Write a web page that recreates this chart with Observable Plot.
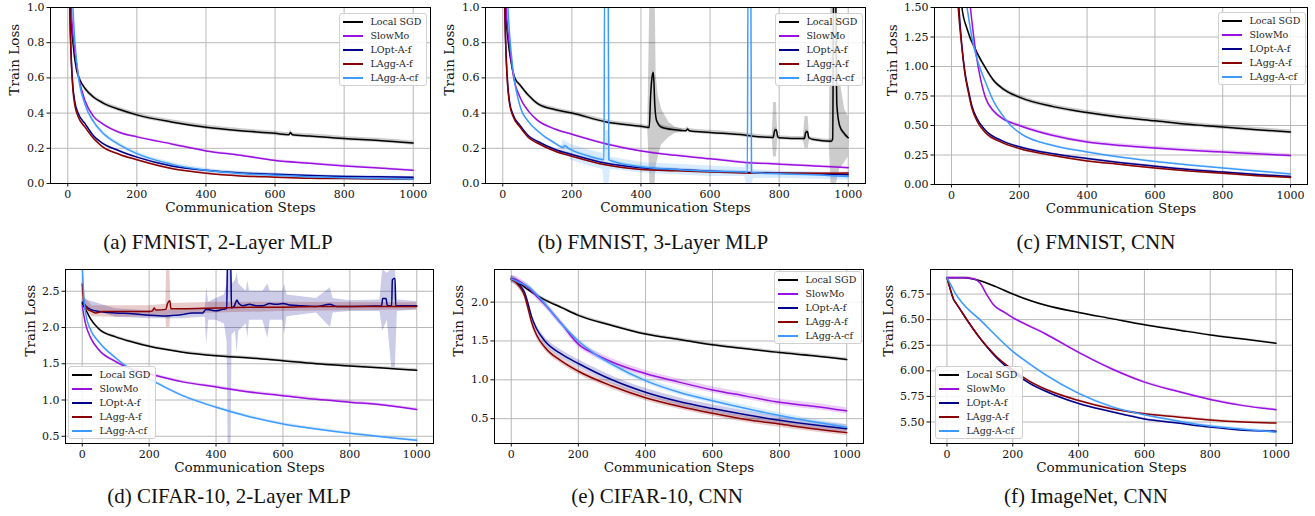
<!DOCTYPE html>
<html><head><meta charset="utf-8">
<script src="https://cdn.jsdelivr.net/npm/d3@7"></script>
<script src="https://cdn.jsdelivr.net/npm/@observablehq/plot@0.6"></script>
<style>
body{margin:0;background:#fff;width:1315px;height:516px;position:relative;overflow:hidden}
.panel{position:absolute}
.panel svg, .panel svg text{font-family:"DejaVu Serif" !important}
.legend{position:absolute;background:rgba(255,255,255,0.85);border:1px solid #d0d0d0;border-radius:3px;padding:1px 5px 1px 3px;font-family:"DejaVu Serif";font-size:9.5px;color:#222;box-sizing:border-box}
.legend .row{display:flex;align-items:center;height:13.9px;white-space:nowrap}
.legend .sw{width:20px;height:2px;margin-right:7.5px;flex:none}
.caption{position:absolute;font-family:"Liberation Serif";font-size:21px;line-height:21px;white-space:nowrap;transform:translateX(-50%);color:#111}
</style>
</head><body>
<script>
// ---------- shared ----------
const seriesNames = ["Local SGD", "SlowMo", "LOpt-A-f", "LAgg-A-f", "LAgg-A-cf"];
const seriesColors = ["#000000", "#9a10e0", "#00008b", "#8b0000", "#3d9bff"];
const xTicks = [0, 200, 400, 600, 800, 1000];

// ---------- (a) FMNIST, 2-Layer MLP ----------
const aLocalSGD = [[0,2.3],[8,1.0],[15,0.8],[25,0.65],[35,0.59],[50,0.54],[75,0.49],[100,0.46],[150,0.42],[200,0.39],[300,0.35],[400,0.32],[500,0.30],[600,0.285],[640,0.277],[645,0.29],[650,0.277],[700,0.27],[800,0.255],[900,0.245],[1000,0.23]];
const aSlowMo = [[0,2.3],[10,1.0],[20,0.76],[32,0.6],[50,0.47],[75,0.38],[100,0.34],[150,0.29],[200,0.265],[300,0.225],[400,0.185],[500,0.16],[600,0.13],[700,0.115],[800,0.1],[900,0.088],[1000,0.075]];
const aLOptAf = [[0,2.3],[6,1.0],[10,0.72],[15,0.55],[20,0.47],[30,0.40],[50,0.34],[75,0.27],[100,0.23],[150,0.185],[200,0.15],[300,0.1],[400,0.075],[500,0.06],[600,0.052],[700,0.045],[800,0.04],[900,0.038],[1000,0.035]];
const aLAggAf = [[0,2.3],[6,1.0],[10,0.7],[15,0.53],[20,0.45],[30,0.38],[50,0.32],[75,0.255],[100,0.21],[150,0.165],[200,0.135],[300,0.085],[400,0.058],[500,0.043],[600,0.036],[700,0.03],[800,0.028],[900,0.026],[1000,0.025]];
const aLAggAcf = [[0,2.3],[15,1.0],[20,0.82],[30,0.62],[50,0.45],[75,0.35],[100,0.29],[150,0.22],[200,0.17],[300,0.11],[400,0.075],[500,0.057],[600,0.047],[700,0.038],[800,0.032],[900,0.028],[1000,0.025]];
const aBand = [0.012, 0.006, 0.005, 0.006, 0.012];

// ---------- (b) FMNIST, 3-Layer MLP ----------
const bLocalSGD = [[0,2.3],[8,1.0],[15,0.82],[25,0.68],[35,0.6],[50,0.56],[75,0.5],[100,0.455],[150,0.42],[200,0.4],[300,0.35],[400,0.325],[424,0.318],[428,0.5],[432,0.6],[436,0.63],[440,0.45],[445,0.36],[460,0.32],[500,0.305],[530,0.3],[535,0.31],[540,0.3],[600,0.29],[700,0.275],[720,0.27],[783,0.262],[787,0.3],[792,0.305],[796,0.265],[800,0.26],[873,0.255],[877,0.29],[882,0.295],[886,0.26],[900,0.25],[950,0.24],[955,0.25],[958,1.2],[963,1.2],[967,0.45],[975,0.33],[990,0.28],[1000,0.26]];
const bSlowMo = [[0,2.3],[10,1.0],[20,0.78],[30,0.62],[50,0.49],[75,0.41],[100,0.36],[150,0.31],[200,0.28],[300,0.225],[400,0.185],[500,0.16],[600,0.14],[700,0.12],[800,0.11],[900,0.1],[1000,0.09]];
const bLOptAf = [[0,2.3],[6,1.0],[10,0.72],[15,0.55],[20,0.46],[30,0.39],[50,0.33],[75,0.27],[100,0.24],[150,0.195],[200,0.165],[300,0.115],[400,0.09],[500,0.08],[600,0.07],[700,0.063],[800,0.058],[900,0.055],[1000,0.05]];
const bLAggAf = [[0,2.3],[6,1.0],[10,0.7],[15,0.53],[20,0.45],[30,0.38],[50,0.32],[75,0.26],[100,0.23],[150,0.185],[200,0.155],[300,0.105],[400,0.08],[500,0.072],[600,0.065],[700,0.06],[800,0.058],[900,0.058],[1000,0.06]];
const bLAggAcf = [[0,2.3],[15,1.0],[20,0.84],[30,0.64],[50,0.44],[75,0.35],[100,0.3],[150,0.23],[175,0.205],[180,0.215],[190,0.2],[200,0.19],[250,0.155],[293,0.135],[295,1.2],[305,1.2],[307,0.135],[320,0.125],[400,0.095],[500,0.08],[600,0.07],[700,0.065],[708,0.063],[710,1.2],[718,1.2],[720,0.062],[800,0.055],[900,0.05],[1000,0.04]];
const bBand = [0.012, 0.006, 0.005, 0.006, 0.008];
const bLocalNoise1 = [[420,0.3,0.34],[426,0,1.1],[441,0,1.1],[444,0.1,0.62],[450,0.15,0.5],[460,0.22,0.42],[480,0.26,0.35],[500,0.285,0.32],[520,0.29,0.31]];
const bLocalNoise2 = [[780,0.25,0.27],[784,0.15,0.46],[792,0.15,0.46],[796,0.25,0.27]];
const bLocalNoise3 = [[870,0.24,0.26],[875,0.2,0.38],[884,0.2,0.38],[888,0.24,0.26]];
const bLocalNoise4 = [[945,0.22,0.26],[950,0,1.1],[966,0,1.1],[975,0.08,0.6],[990,0.12,0.42],[1000,0.15,0.38]];
const bCfNoise = [[170,0.19,0.21],[175,0.16,0.25],[190,0.15,0.23],[200,0.13,0.22],[250,0.1,0.19],[290,0.08,0.17],[293,0,0.3],[308,0,0.3],[312,0.08,0.15],[400,0.06,0.12],[500,0.05,0.11],[600,0.04,0.1],[700,0.04,0.09],[706,0,0.12],[722,0,0.12],[726,0.03,0.08],[800,0.03,0.07],[1000,0.02,0.06]];

// ---------- (c) FMNIST, CNN ----------
const cLocalSGD = [[0,2.3],[20,1.9],[31,1.5],[46,1.32],[75,1.12],[100,0.99],[125,0.88],[150,0.815],[200,0.74],[300,0.66],[400,0.61],[500,0.57],[600,0.54],[700,0.51],[800,0.487],[900,0.465],[1000,0.445]];
const cSlowMo = [[0,2.3],[40,2.0],[56,1.5],[68,1.2],[80,0.98],[100,0.74],[125,0.62],[150,0.56],[200,0.5],[300,0.415],[400,0.36],[500,0.33],[600,0.31],[700,0.29],[800,0.275],[900,0.26],[1000,0.245]];
const cLOptAf = [[0,2.3],[15,1.8],[22,1.5],[30,1.2],[40,0.95],[50,0.8],[60,0.67],[75,0.56],[100,0.46],[150,0.37],[200,0.32],[300,0.26],[400,0.22],[500,0.185],[600,0.155],[700,0.127],[800,0.105],[900,0.085],[1000,0.068]];
const cLAggAf = [[0,2.3],[14,1.8],[20,1.5],[30,1.18],[40,0.93],[50,0.78],[60,0.65],[75,0.54],[100,0.44],[150,0.355],[200,0.305],[300,0.245],[400,0.2],[500,0.17],[600,0.14],[700,0.115],[800,0.095],[900,0.075],[1000,0.06]];
const cLAggAcf = [[0,2.3],[30,1.8],[46,1.5],[60,1.25],[75,1.07],[100,0.87],[125,0.7],[150,0.59],[175,0.5],[200,0.44],[300,0.33],[400,0.275],[500,0.23],[600,0.195],[700,0.165],[800,0.14],[900,0.115],[1000,0.09]];
const cBand = [0.018, 0.015, 0.008, 0.012, 0.008];

// ---------- (d) CIFAR-10, 2-Layer MLP ----------
const dLocalSGD = [[0,2.33],[10,2.25],[25,2.12],[50,1.98],[100,1.87],[150,1.8],[200,1.74],[300,1.66],[400,1.61],[500,1.58],[600,1.54],[700,1.5],[800,1.47],[900,1.44],[1000,1.41]];
const dSlowMo = [[0,2.3],[10,2.05],[25,1.86],[50,1.69],[100,1.53],[150,1.42],[200,1.36],[300,1.25],[400,1.18],[500,1.11],[600,1.06],[700,1.01],[800,0.97],[900,0.93],[1000,0.87]];
const dLOptAf = [[0,2.35],[10,2.3],[25,2.25],[50,2.22],[100,2.2],[150,2.19],[200,2.17],[250,2.16],[280,2.17],[300,2.18],[330,2.2],[360,2.2],[370,2.25],[385,2.24],[400,2.23],[420,2.25],[432,2.26],[434,2.9],[444,2.9],[446,2.27],[455,2.3],[462,2.38],[468,2.33],[480,2.3],[500,2.32],[520,2.3],[540,2.3],[560,2.33],[580,2.32],[600,2.33],[620,2.31],[650,2.3],[700,2.29],[740,2.32],[760,2.29],[800,2.29],[895,2.3],[898,2.4],[908,2.4],[912,2.3],[925,2.3],[927,2.66],[935,2.68],[937,2.3],[1000,2.3]];
const dLAggAf = [[0,2.6],[5,2.35],[15,2.26],[30,2.22],[40,2.2],[60,2.22],[100,2.22],[200,2.22],[210,2.23],[215,2.27],[220,2.24],[250,2.25],[255,2.33],[262,2.37],[265,2.26],[300,2.26],[400,2.27],[500,2.28],[600,2.28],[700,2.29],[800,2.29],[900,2.29],[1000,2.29]];
const dLAggAcf = [[0,2.9],[5,2.4],[10,2.2],[25,1.97],[50,1.8],[100,1.58],[150,1.41],[200,1.29],[300,1.06],[400,0.9],[500,0.77],[600,0.67],[700,0.6],[800,0.54],[900,0.49],[1000,0.445]];
const dBand = [0.02, 0.02, 0, 0, 0.02];
const dLOptNoise = [[0,2.3,2.4],[100,2.14,2.26],[200,2.12,2.23],[300,2.12,2.25],[360,2.14,2.27],[368,2.14,2.27],[372,1.75,2.55],[378,2.1,2.35],[400,2.1,2.4],[425,2.05,2.45],[433,1.8,2.6],[436,0.4,2.9],[445,0.4,2.9],[448,1.9,2.6],[458,1.95,2.65],[463,1.65,2.75],[468,1.95,2.6],[490,2.05,2.5],[495,1.85,2.65],[500,2.1,2.5],[540,2.1,2.5],[555,1.85,2.6],[562,2.1,2.5],[600,2.1,2.5],[605,1.9,2.6],[612,2.15,2.45],[700,2.2,2.4],[742,2.0,2.55],[750,2.2,2.4],[800,2.22,2.37],[890,2.22,2.38],[898,1.95,2.8],[912,2.1,2.75],[925,1.45,2.8],[936,1.45,2.8],[942,2.22,2.38],[1000,2.24,2.36]];
const dLAggNoise = [[0,2.45,2.75],[10,2.25,2.4],[30,2.15,2.3],[100,2.14,2.3],[200,2.15,2.3],[250,2.15,2.32],[252,2.0,2.8],[262,2.0,2.8],[265,2.18,2.33],[400,2.2,2.35],[600,2.22,2.35],[1000,2.24,2.34]];

// ---------- (e) CIFAR-10, CNN ----------
const eLocalSGD = [[0,2.3],[25,2.24],[50,2.16],[75,2.09],[100,2.03],[150,1.93],[200,1.83],[300,1.7],[400,1.59],[500,1.52],[600,1.45],[700,1.4],[800,1.35],[900,1.31],[1000,1.26]];
const eSlowMo = [[0,2.3],[15,2.29],[30,2.25],[50,2.19],[75,2.08],[100,1.97],[150,1.72],[200,1.46],[250,1.33],[300,1.23],[400,1.08],[500,0.97],[600,0.87],[700,0.79],[800,0.71],[900,0.66],[1000,0.6]];
const eLOptAf = [[0,2.3],[25,2.22],[40,2.12],[50,1.98],[60,1.82],[75,1.66],[100,1.5],[150,1.33],[200,1.21],[300,1.0],[400,0.84],[500,0.72],[600,0.63],[700,0.55],[800,0.48],[900,0.42],[1000,0.37]];
const eLAggAf = [[0,2.3],[25,2.2],[40,2.08],[50,1.92],[60,1.75],[75,1.58],[100,1.42],[150,1.24],[200,1.11],[300,0.92],[400,0.77],[500,0.66],[600,0.57],[700,0.49],[800,0.43],[900,0.37],[1000,0.32]];
const eLAggAcf = [[0,2.3],[25,2.25],[50,2.2],[75,2.1],[100,1.98],[150,1.72],[200,1.5],[250,1.33],[300,1.2],[400,0.99],[500,0.84],[600,0.73],[700,0.63],[800,0.54],[900,0.46],[1000,0.39]];
const eBand = [0.02, 0.04, 0.05, 0.04, 0.035];

// ---------- (f) ImageNet, CNN ----------
const fLocalSGD = [[0,6.91],[50,6.91],[75,6.9],[100,6.88],[150,6.82],[200,6.75],[250,6.69],[300,6.64],[400,6.57],[500,6.51],[600,6.45],[700,6.4],[800,6.35],[900,6.31],[1000,6.27]];
const fSlowMo = [[0,6.91],[50,6.91],[80,6.9],[100,6.86],[120,6.75],[140,6.65],[175,6.57],[200,6.52],[300,6.36],[400,6.18],[500,6.02],[600,5.89],[700,5.8],[800,5.72],[900,5.66],[1000,5.62]];
const fLOptAf = [[0,6.91],[10,6.8],[20,6.7],[30,6.65],[50,6.55],[100,6.32],[150,6.13],[200,5.99],[250,5.88],[300,5.8],[400,5.68],[500,5.6],[600,5.53],[700,5.49],[800,5.45],[900,5.42],[1000,5.41]];
const fLAggAf = [[0,6.91],[10,6.8],[20,6.7],[30,6.65],[50,6.55],[100,6.32],[150,6.14],[200,6.01],[250,5.9],[300,5.82],[400,5.71],[500,5.63],[600,5.58],[700,5.55],[800,5.52],[900,5.5],[1000,5.49]];
const fLAggAcf = [[0,6.91],[15,6.82],[25,6.76],[50,6.65],[100,6.5],[150,6.34],[200,6.19],[250,6.07],[300,5.96],[400,5.78],[500,5.65],[600,5.57],[700,5.51],[800,5.46],[900,5.43],[1000,5.4]];
const fBand = [0.008, 0.012, 0.01, 0.01, 0.012];

// ---------- panels ----------
const panels = [
  {left:0, top:0, width:435, height:225, ml:50, mr:5, mt:7, mb:42, ydom:[0,1], yticks:[0,0.2,0.4,0.6,0.8,1.0], yfmt:".1f",
   series:[aLocalSGD,aSlowMo,aLOptAf,aLAggAf,aLAggAcf], band:aBand, noise:[],
   legend:[339,13], caption:"(a) FMNIST, 2-Layer MLP", capX:218, capY:232, ylabDx:36, xlabDy:28},
  {left:435, top:0, width:435, height:225, ml:50, mr:5, mt:7, mb:42, ydom:[0,1], yticks:[0,0.2,0.4,0.6,0.8,1.0], yfmt:".1f",
   series:[bLocalSGD,bSlowMo,bLOptAf,bLAggAf,bLAggAcf], band:bBand,
   noise:[[bLocalNoise1,0],[bLocalNoise2,0],[bLocalNoise3,0],[bLocalNoise4,0],[bCfNoise,4]],
   legend:[775,13], caption:"(b) FMNIST, 3-Layer MLP", capX:653, capY:232, ylabDx:36, xlabDy:28},
  {left:870, top:0, width:445, height:225, ml:64, mr:8, mt:7, mb:41, ydom:[0,1.5], yticks:[0,0.25,0.5,0.75,1.0,1.25,1.5], yfmt:".2f",
   series:[cLocalSGD,cSlowMo,cLOptAf,cLAggAf,cLAggAcf], band:cBand, noise:[],
   legend:[1218,12], caption:"(c) FMNIST, CNN", capX:1096, capY:232, ylabDx:42, xlabDy:28},
  {left:0, top:258, width:435, height:230, ml:65, mr:2, mt:11, mb:45, ydom:[0.4,2.8], yticks:[0.5,1.0,1.5,2.0,2.5], yfmt:".1f",
   series:[dLocalSGD,dSlowMo,dLOptAf,dLAggAf,dLAggAcf], band:dBand,
   noise:[[dLOptNoise,2],[dLAggNoise,3]],
   legend:[68,366], caption:"(d) CIFAR-10, 2-Layer MLP", capX:229, capY:486, ylabDx:35, xlabDy:28},
  {left:435, top:258, width:435, height:230, ml:59, mr:7, mt:11, mb:45, ydom:[0.18,2.42], yticks:[0.5,1.0,1.5,2.0], yfmt:".1f",
   series:[eLocalSGD,eSlowMo,eLOptAf,eLAggAf,eLAggAcf], band:eBand, noise:[],
   legend:[774,271], caption:"(e) CIFAR-10, CNN", capX:657, capY:486, ylabDx:36, xlabDy:28},
  {left:870, top:258, width:445, height:230, ml:60, mr:23, mt:11, mb:45, ydom:[5.29,6.99], yticks:[5.5,5.75,6.0,6.25,6.5,6.75], yfmt:".2f",
   series:[fLocalSGD,fSlowMo,fLOptAf,fLAggAf,fLAggAcf], band:fBand, noise:[],
   legend:[935,366], caption:"(f) ImageNet, CNN", capX:1086, capY:486, ylabDx:42, xlabDy:28}
];

const FONT = "DejaVu Serif";
for (const p of panels) {
  const marks = [Plot.gridX(xTicks, {stroke:"#b8b8b8", strokeOpacity:1, strokeWidth:1}),
                 Plot.gridY(p.yticks, {stroke:"#b8b8b8", strokeOpacity:1, strokeWidth:1})];
  p.series.forEach((s, i) => {
    const w = p.band[i];
    if (w > 0) marks.push(Plot.areaY(s, {x: d => d[0], y1: d => d[1] - w, y2: d => d[1] + w,
      fill: seriesColors[i], fillOpacity: 0.2, curve: "monotone-x", clip: true}));
  });
  for (const [nz, i] of p.noise) {
    marks.push(Plot.areaY(nz, {x: d => d[0], y1: d => d[1], y2: d => d[2],
      fill: seriesColors[i], fillOpacity: 0.2, curve: "linear", clip: true}));
  }
  p.series.forEach((s, i) => {
    marks.push(Plot.line(s, {x: d => d[0], y: d => d[1], stroke: seriesColors[i], strokeWidth: 1.5,
      curve: "monotone-x", clip: true}));
  });
  marks.push(Plot.frame({stroke: "#000", strokeWidth: 1}));
  marks.push(Plot.axisX({ticks: xTicks, tickFormat: d3.format("d"), tickSize: 3.5, tickPadding: 3, label: null, fontSize: 11, fontFamily: FONT}));
  marks.push(Plot.axisY({ticks: p.yticks, tickFormat: d3.format(p.yfmt), tickSize: 3.5, tickPadding: 2.5, label: null, fontSize: 11, fontFamily: FONT}));
  marks.push(Plot.text(["Train Loss"], {frameAnchor: "left", dx: -p.ylabDx, rotate: -90, fontSize: 13.5, fontFamily: FONT, fill: "#111"}));
  marks.push(Plot.text(["Communication Steps"], {frameAnchor: "bottom", dy: p.xlabDy, fontSize: 13.5, fontFamily: FONT, fill: "#111"}));

  const chart = Plot.plot({
    width: p.width, height: p.height,
    marginLeft: p.ml, marginRight: p.mr, marginTop: p.mt, marginBottom: p.mb,
    x: {domain: [-50, 1050]},
    y: {domain: p.ydom},
    style: {fontFamily: FONT, fontSize: "11px", color: "#111", background: "transparent", overflow: "visible"},
    marks
  });
  const wrap = document.createElement("div");
  wrap.className = "panel";
  wrap.style.left = p.left + "px";
  wrap.style.top = p.top + "px";
  wrap.appendChild(chart);
  document.body.appendChild(wrap);

  const lg = document.createElement("div");
  lg.className = "legend";
  lg.style.left = p.legend[0] + "px";
  lg.style.top = p.legend[1] + "px";
  seriesNames.forEach((n, i) => {
    const r = document.createElement("div");
    r.className = "row";
    const sw = document.createElement("div");
    sw.className = "sw";
    sw.style.background = seriesColors[i];
    r.appendChild(sw);
    r.appendChild(document.createTextNode(n));
    lg.appendChild(r);
  });
  document.body.appendChild(lg);

  const cap = document.createElement("div");
  cap.className = "caption";
  cap.style.left = p.capX + "px";
  cap.style.top = p.capY + "px";
  cap.textContent = p.caption;
  document.body.appendChild(cap);
}
</script>
</body></html>
